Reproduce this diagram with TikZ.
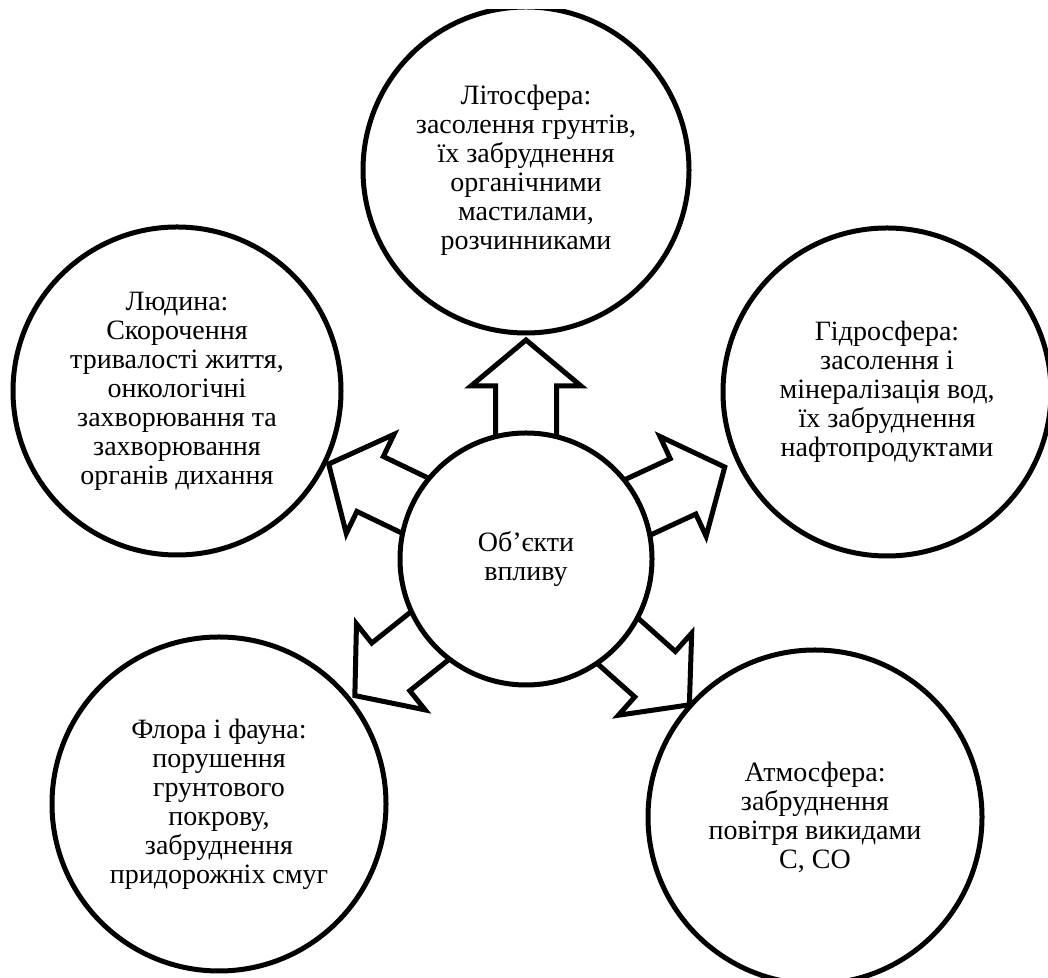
\documentclass[tikz,border=0pt]{standalone}
\usepackage{fontspec}
\setmainfont{Liberation Serif}
\usetikzlibrary{calc,backgrounds}

\begin{document}
\begin{tikzpicture}[x=0.5pt, y=0.5pt, font=\fontsize{14}{14.5}\selectfont,
  sphere/.style={draw, circle, line width=2.5pt, fill=white, align=center, inner sep=0pt},
  blockarrow/.style={draw, line width=2.5pt, fill=white, line join=miter}]
  \useasboundingbox (0, 0) rectangle (1048, 978);
  \clip (0, 0) rectangle (1048, 968);

  % Objects of impact
  \node[sphere, minimum size=163pt] (lit) at (526, 808) {Літосфера:\\засолення грунтів,\\їх забруднення\\органічними\\мастилами,\\розчинниками};
  \node[sphere, minimum size=164pt] (lud) at (177, 587) {Людина:\\Скорочення\\тривалості життя,\\онкологічні\\захворювання та\\захворювання\\органів дихання};
  \node[sphere, minimum size=164pt] (hyd) at (887, 586) {Гідросфера:\\засолення і\\мінералізація вод,\\їх забруднення\\нафтопродуктами};
  \node[sphere, minimum size=167pt] (flo) at (219, 174) {Флора і фауна:\\порушення\\грунтового\\покрову,\\забруднення\\придорожніх смуг};
  \node[sphere, minimum size=167pt] (atm) at (815, 161) {Атмосфера:\\забруднення\\повітря викидами\\С, СО};

  % Centre
  \node[sphere, minimum size=126pt] (obj) at (526, 419) {Об’єкти\\впливу};

  % Block arrows from the centre, behind it
  \begin{pgfonlayer}{background}
  \foreach \t in {lit, hyd, atm, flo, lud}
    \draw[blockarrow] let \p1 = ($(\t)-(obj)$), \n1 = {atan2(\y1,\x1)} in
      ($(obj)+(\n1:120)+(\n1-90:30.5)$) -- ($(obj)+(\n1:173)+(\n1-90:30.5)$)
      -- ($(obj)+(\n1:173)+(\n1-90:55)$) -- ($(obj)+(\n1:219)$)
      -- ($(obj)+(\n1:173)+(\n1+90:55)$) -- ($(obj)+(\n1:173)+(\n1+90:30.5)$)
      -- ($(obj)+(\n1:120)+(\n1+90:30.5)$) -- cycle;
  \end{pgfonlayer}
\end{tikzpicture}
\end{document}
